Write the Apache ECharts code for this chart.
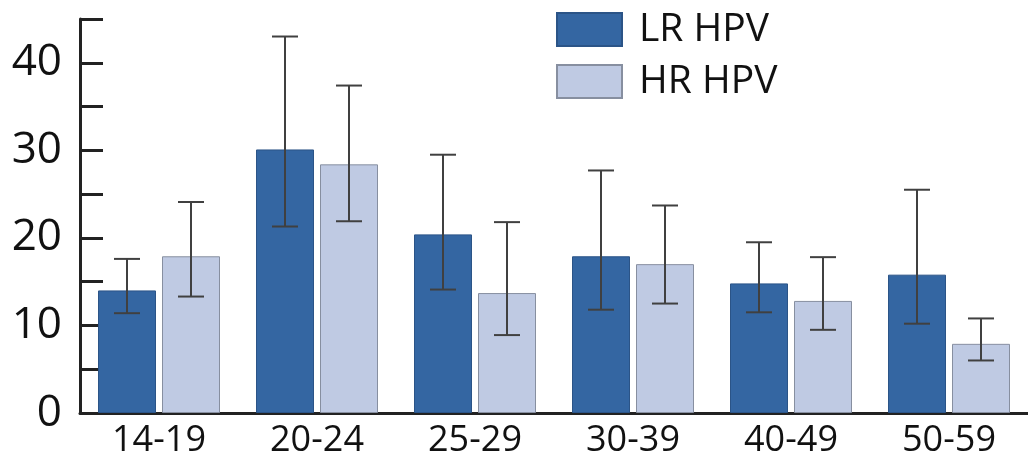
<!DOCTYPE html>
<html>
<head>
<meta charset="utf-8">
<script src="https://cdn.jsdelivr.net/npm/echarts@6/dist/echarts.min.js"></script>
<style>
  html, body { margin: 0; padding: 0; background: #ffffff; }
  #chart { width: 1028px; height: 459px; }
</style>
</head>
<body>
<div id="chart"></div>
<script>
// Age groups on the x axis
const ageGroups = ['14-19', '20-24', '25-29', '30-39', '40-49', '50-59'];

// Prevalence (%) per age group
const lrValues = [14.0, 30.1, 20.4, 17.9, 14.8, 15.8];
const hrValues = [17.9, 28.4, 13.7, 17.0, 12.8, 7.9];

// Error bar ranges [low, high]
const lrLow  = [11.4, 21.3, 14.1, 11.8, 11.5, 10.2];
const lrHigh = [17.6, 43.0, 29.5, 27.7, 19.5, 25.5];
const hrLow  = [13.3, 21.9, 8.9, 12.5, 9.5, 6.0];
const hrHigh = [24.1, 37.4, 21.8, 23.7, 17.8, 10.8];

// y axis ticks every 5, labels every 10
const yTickLabels = ['0', '', '10', '', '20', '', '30', '', '40', ''];

const BAR_W = 58;
const BAR_GAP_PX = 6;
const CAP_W = 26;
const FONT = '"Open Sans", "Liberation Sans", sans-serif';

function errorBarItem(offset) {
  return function (params, api) {
    const idx = api.value(0);
    const lo = api.coord([idx, api.value(1)]);
    const hi = api.coord([idx, api.value(2)]);
    const x = lo[0] + offset;
    const style = { stroke: '#404040', lineWidth: 2 };
    return {
      type: 'group',
      children: [
        { type: 'line', shape: { x1: x, y1: lo[1], x2: x, y2: hi[1] }, style },
        { type: 'line', shape: { x1: x - CAP_W / 2, y1: hi[1], x2: x + CAP_W / 2, y2: hi[1] }, style },
        { type: 'line', shape: { x1: x - CAP_W / 2, y1: lo[1], x2: x + CAP_W / 2, y2: lo[1] }, style }
      ]
    };
  };
}

const lrErr = ageGroups.map((_, i) => [i, lrLow[i], lrHigh[i]]);
const hrErr = ageGroups.map((_, i) => [i, hrLow[i], hrHigh[i]]);
const half = (BAR_W + BAR_GAP_PX) / 2;

const chart = echarts.init(document.getElementById('chart'), null, { renderer: 'canvas' });

chart.setOption({
  backgroundColor: '#ffffff',
  animation: false,
  grid: { left: 80, top: 19, width: 955, height: 394 },
  legend: {
    orient: 'vertical',
    left: 556,
    top: 10,
    padding: 0,
    icon: 'rect',
    itemWidth: 65,
    itemHeight: 33,
    itemGap: 13,
    textStyle: { fontSize: 39, fontFamily: FONT, color: '#111', padding: [0, 0, 0, 12] },
    data: ['LR HPV', 'HR HPV']
  },
  xAxis: {
    type: 'category',
    data: ageGroups,
    axisLine: { lineStyle: { color: '#222', width: 3 } },
    axisTick: { show: false },
    axisLabel: { fontSize: 36, fontFamily: FONT, color: '#111', margin: 10 }
  },
  yAxis: {
    type: 'value',
    min: 0,
    max: 45,
    interval: 5,
    splitLine: { show: false },
    axisLine: { show: true, lineStyle: { color: '#222', width: 3 } },
    axisTick: { show: true, inside: true, length: 23, lineStyle: { color: '#222', width: 3 } },
    axisLabel: {
      fontSize: 44,
      fontFamily: FONT,
      color: '#111',
      margin: 18,
      formatter: (v) => yTickLabels[Math.round(v / 5)] || ''
    }
  },
  series: [
    {
      name: 'LR HPV',
      type: 'bar',
      data: lrValues,
      barWidth: BAR_W,
      barGap: (BAR_GAP_PX / BAR_W * 100) + '%',
      itemStyle: { color: '#3466a2', borderColor: '#2b5487', borderWidth: 1 }
    },
    {
      name: 'HR HPV',
      type: 'bar',
      data: hrValues,
      barWidth: BAR_W,
      itemStyle: { color: '#bfcae3', borderColor: '#878fa0', borderWidth: 1 }
    },
    {
      type: 'custom',
      data: lrErr,
      renderItem: errorBarItem(-half),
      z: 5,
      silent: true
    },
    {
      type: 'custom',
      data: hrErr,
      renderItem: errorBarItem(half),
      z: 5,
      silent: true
    }
  ]
});
</script>
</body>
</html>
